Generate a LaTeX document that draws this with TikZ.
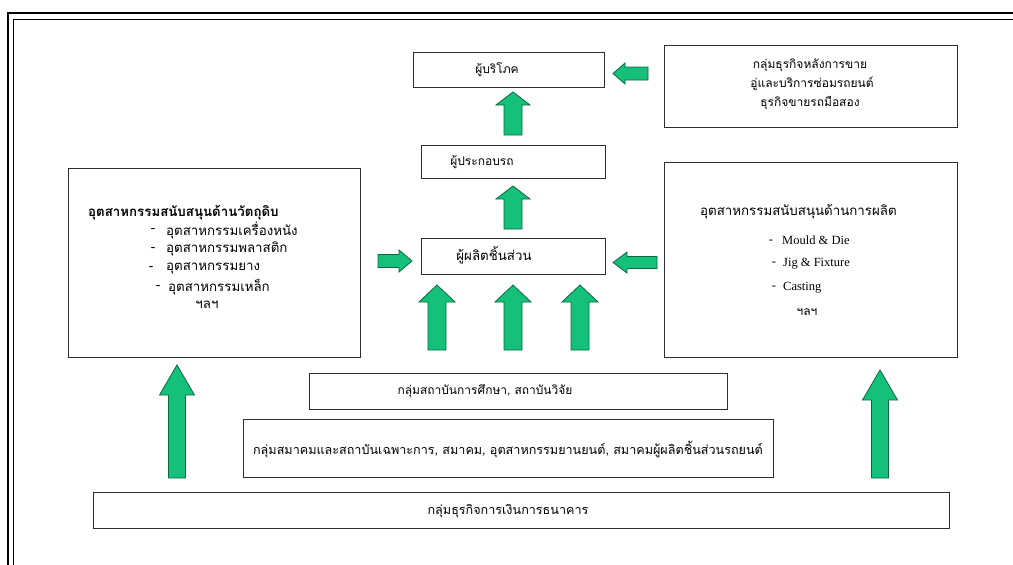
\documentclass[tikz,border=0pt]{standalone}
\usepackage{fontspec}
\setmainfont{Liberation Serif}
\newfontfamily\thaifont[Script=Thai]{Loma}
\usetikzlibrary{calc}
\definecolor{arrfill}{RGB}{20,192,122}
\definecolor{arrline}{RGB}{10,105,60}
\definecolor{boxline}{RGB}{45,45,45}
\newcommand{\blockup}[6]{%
  \draw[blk] (#1-#5,#3) -- (#1-#5,#2+#6) -- (#1-#4,#2+#6) -- (#1,#2)
    -- (#1+#4,#2+#6) -- (#1+#5,#2+#6) -- (#1+#5,#3) -- cycle;}
\newcommand{\blockh}[6]{%
  \draw[blk] (#2,#3-#5) -- (#1+#6,#3-#5) -- (#1+#6,#3-#4) -- (#1,#3)
    -- (#1+#6,#3+#4) -- (#1+#6,#3+#5) -- (#2,#3+#5) -- cycle;}
\begin{document}
\begin{tikzpicture}[x=1pt,y=-1pt,
  box/.style={draw=boxline,line width=1.1pt,fill=white,anchor=north west,inner sep=0pt},
  th/.style={font=\thaifont\fontsize{12}{14}\selectfont,inner sep=0pt},
  thl/.style={font=\thaifont\fontsize{13.3}{15}\selectfont,inner sep=0pt},
  thb/.style={font=\thaifont\bfseries\fontsize{13.3}{15}\selectfont,inner sep=0pt},
  lat/.style={font=\fontsize{12.5}{14}\selectfont,inner sep=0pt},
  blk/.style={fill=arrfill,draw=arrline,line width=0.8pt,line join=miter}]
\useasboundingbox (0,0) rectangle (1013,565);
\clip (0,0) rectangle (1013,565);
\fill[white] (0,0) rectangle (1013,565);
% frame
\draw[line width=1.5pt,black] (8,13) rectangle (1040,600);
\draw[line width=1pt,black] (13,19) rectangle (1035,595);

% boxes
\node[box,minimum width=191pt,minimum height=35pt] (consbox) at (413,52) {};
\node[box,minimum width=293pt,minimum height=82pt] (afterbox) at (664,45) {};
\node[box,minimum width=184pt,minimum height=33pt] (asmbox) at (421,145) {};
\node[box,minimum width=184pt,minimum height=36pt] (partsbox) at (421,238) {};
\node[box,minimum width=292pt,minimum height=189pt] (rawbox) at (68,168) {};
\node[box,minimum width=293pt,minimum height=195pt] (prodbox) at (664,162) {};
\node[box,minimum width=418pt,minimum height=36pt] (edubox) at (309,373) {};
\node[box,minimum width=530pt,minimum height=58pt] (assocbox) at (243,419) {};
\node[box,minimum width=856pt,minimum height=36pt] (bankbox) at (93,492) {};

% texts
\node[th] (cons) at (497,70) {ผู้บริโภค};
\node[th] (after1) at (810,65) {กลุ่มธุรกิจหลังการขาย};
\node[th] (after2) at (812,84) {อู่และบริการซ่อมรถยนต์};
\node[th] (after3) at (810,103) {ธุรกิจขายรถมือสอง};
\node[th] (asm) at (482,162) {ผู้ประกอบรถ};
\node[thl] (parts) at (494,255) {ผู้ผลิตชิ้นส่วน};

\node[thb,anchor=west] (rawt) at (88,213) {อุตสาหกรรมสนับสนุนด้านวัตถุดิบ};
\node[thl] (rd1) at (153,230) {-};
\node[thl,anchor=west] (r1) at (166,230) {อุตสาหกรรมเครื่องหนัง};
\node[thl] (rd2) at (153,249) {-};
\node[thl,anchor=west] (r2) at (166,249) {อุตสาหกรรมพลาสติก};
\node[thl] (rd3) at (151,268) {-};
\node[thl,anchor=west] (r3) at (166,268) {อุตสาหกรรมยาง};
\node[thl] (rd4) at (158,287) {-};
\node[thl,anchor=west] (r4) at (168,287) {อุตสาหกรรมเหล็ก};
\node[thl] (r5) at (207,305) {ฯลฯ};

\node[thl,anchor=west] (prodt) at (700,212) {อุตสาหกรรมสนับสนุนด้านการผลิต};
\node[lat] (pd1) at (771,242) {-};
\node[lat,anchor=west] (p1) at (782,240) {Mould \& Die};
\node[lat] (pd2) at (774,264) {-};
\node[lat,anchor=west] (p2) at (783,264) {Jig \& Fixture};
\node[lat] (pd3) at (774,288) {-};
\node[lat,anchor=west] (p3) at (783,288) {Casting};
\node[th] (p4) at (807,312) {ฯลฯ};

\node[th] (edu) at (485,391) {กลุ่มสถาบันการศึกษา, สถาบันวิจัย};
\node[th,font=\thaifont\fontsize{12.6}{14}\selectfont] (assoc) at (508,449) {กลุ่มสมาคมและสถาบันเฉพาะการ, สมาคม, อุตสาหกรรมยานยนต์, สมาคมผู้ผลิตชิ้นส่วนรถยนต์};
\node[th,font=\thaifont\fontsize{12.6}{14}\selectfont] (bank) at (508,511) {กลุ่มธุรกิจการเงินการธนาคาร};

% block arrows
\blockup{513}{92}{135}{17}{9}{13}
\blockup{513}{186}{229}{17}{9}{13}
\blockup{437}{285}{350}{18}{9}{17}
\blockup{513}{285}{350}{18}{9}{17}
\blockup{580}{285}{350}{18}{9}{17}
\blockup{177}{365}{478}{17.5}{8.5}{30}
\blockup{880}{370}{478}{17.5}{8.5}{30}
\blockh{613}{648}{73.5}{10.5}{6.5}{12}
\blockh{412}{378}{261}{11}{6.5}{0-13}
\blockh{613}{657}{262.5}{10.5}{6}{14}
\end{tikzpicture}
\end{document}
